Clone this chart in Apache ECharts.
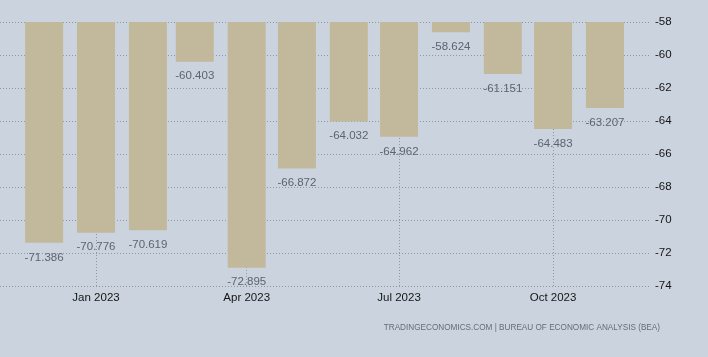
<!DOCTYPE html>
<html>
<head>
<meta charset="utf-8">
<script src="https://cdn.jsdelivr.net/npm/echarts@6/dist/echarts.min.js"></script>
<style>
html,body{margin:0;padding:0;background:#cbd3de;}
#c{width:708px;height:357px;}
</style>
</head>
<body>
<div id="c"></div>
<script>
var months = ['2022-12','2023-01','2023-02','2023-03','2023-04','2023-05','2023-06','2023-07','2023-08','2023-09','2023-10','2023-11'];
var values = [-71.386,-70.776,-70.619,-60.403,-72.895,-66.872,-64.032,-64.962,-58.624,-61.151,-64.483,-63.207];
var tickMonths = ['2023-01','2023-04','2023-07','2023-10'];
var tickLabels = ['Jan 2023','Apr 2023','Jul 2023','Oct 2023'];

// x positions are in days since 1970-01-01 (UTC)
function dayNum(m){ var p = m.split('-'); return Date.UTC(+p[0], +p[1]-1, 1) / 864e5; }
var tickDays = tickMonths.map(dayNum);
var xMin = dayNum('2023-01') - 57.35;
var xMax = dayNum('2023-01') + 331.5;

var FONT = 'Liberation Sans, Arial, sans-serif';
var chart = echarts.init(document.getElementById('c'), null, {renderer:'canvas'});
chart.setOption({
  backgroundColor: '#cbd3de',
  animation: false,
  grid: {left: 0, right: 57, top: 22, bottom: 71, containLabel: false},
  xAxis: {
    type: 'value',
    min: xMin, max: xMax,
    axisLine: {show: false},
    axisTick: {show: false},
    splitLine: {show: false},
    axisLabel: {
      customValues: tickDays,
      margin: 6,
      color: '#151515',
      fontFamily: FONT,
      fontSize: 11.5,
      formatter: function(v){
        for (var i=0;i<tickDays.length;i++){ if (Math.abs(tickDays[i]-v) < 0.5) return tickLabels[i]; }
        return '';
      }
    }
  },
  yAxis: {
    type: 'value',
    position: 'right',
    min: -74, max: -58, interval: 2,
    axisLine: {show: false},
    axisTick: {show: false},
    axisLabel: {margin: 4, color: '#151515', fontFamily: FONT, fontSize: 11.5},
    splitLine: {show: true, lineStyle: {color: '#8f97a2', type: [1,2], width: 1}}
  },
  series: [{
    type: 'bar',
    data: months.map(function(m,i){ return [dayNum(m), values[i]]; }),
    barWidth: 38,
    clip: true,
    itemStyle: {color: '#c2b99c'},
    label: {
      show: true, position: 'bottom', distance: 8.5,
      color: '#5b6470', fontFamily: FONT, fontSize: 11.5,
      formatter: function(p){ return p.value[1].toFixed(3); }
    },
    markLine: {
      silent: true, symbol: 'none', z: 1,
      label: {show: false},
      lineStyle: {color: '#8f97a2', type: [1,2], width: 1},
      data: tickDays.map(function(t){ return {xAxis: t}; })
    }
  }],
  graphic: [{
    type: 'text', right: 48, top: 324,
    style: {text: 'TRADINGECONOMICS.COM | BUREAU OF ECONOMIC ANALYSIS (BEA)', fill: '#666d78', font: '8.2px Liberation Sans, Arial, sans-serif'}
  }]
});
</script>
</body>
</html>
